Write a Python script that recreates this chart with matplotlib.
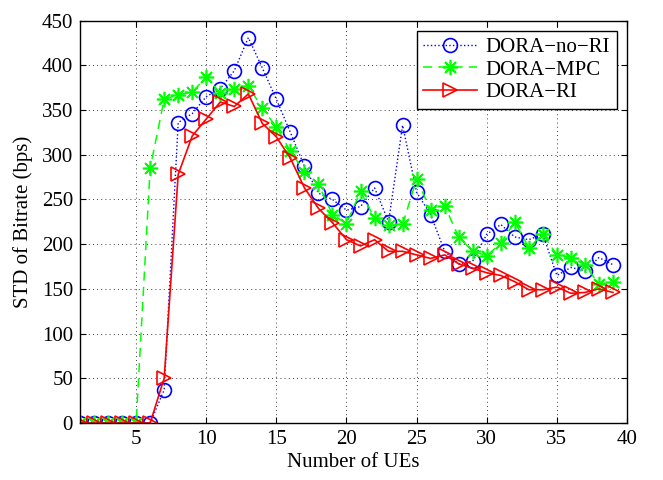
import matplotlib.pyplot as plt

plt.rcParams['font.family'] = ['Liberation Serif', 'DejaVu Serif']

# number of UEs
ues = list(range(1, 40))

# STD of bitrate (bps)
no_ri = [0, 0, 0, 0, 0, 0, 37, 336, 346, 365, 374, 394, 431, 397, 362, 325, 287, 257,
         250, 238, 242, 263, 225, 333, 258, 233, 192, 178, 181, 211, 222, 208, 205,
         211, 165, 174, 170, 185, 177]
mpc = [0, 0, 0, 0, 0, 285, 362, 367, 370, 387, 369, 374, 377, 352, 331, 304, 281, 267,
       233, 223, 259, 229, 221, 222, 273, 238, 243, 208, 192, 187, 201, 225, 196,
       211, 188, 185, 177, 155, 158]
ri = [0, 0, 0, 0, 0, 0, 50, 278, 321, 340, 359, 354, 368, 335, 320, 296, 263, 240,
      224, 205, 198, 205, 192, 192, 188, 184, 188, 178, 173, 168, 165, 158, 149,
      149, 152, 145, 146, 150, 146]

fig = plt.figure(figsize=(6.63, 4.8), dpi=100)
ax = fig.add_axes([0.1207, 0.1188, 0.825, 0.8382])

ax.plot(ues, no_ri, color='blue', linestyle=':', linewidth=1, marker='o',
        markersize=10, markerfacecolor='none', markeredgewidth=1.2, label='DORA\u2212no\u2212RI')
ax.plot(ues, mpc, color='#00ff00', linestyle='--', dashes=(6, 4), linewidth=1.1,
        marker=(8, 2, 0), markersize=11, markeredgewidth=1.2, label='DORA\u2212MPC')
ax.plot(ues, ri, color='red', linestyle='-', linewidth=1.2, marker='>',
        markersize=10, markerfacecolor='none', markeredgewidth=1.2, label='DORA\u2212RI')

ax.set_xlim(1, 40)
ax.set_ylim(0, 450)
ax.set_xticks([5, 10, 15, 20, 25, 30, 35, 40])
ax.set_yticks(range(0, 451, 50))
ax.grid(True, color='black', linestyle=':', linewidth=0.6, dashes=(1, 4))
ax.tick_params(direction='in', top=True, right=True, labelsize=15, length=4, pad=5)
for sp in ax.spines.values():
    sp.set_linewidth(1.0)

ax.set_xlabel('Number of UEs', fontsize=15, labelpad=3)
ax.set_ylabel('STD of Bitrate (bps)', fontsize=15, labelpad=6)

leg = ax.legend(loc='upper right', fontsize=15, fancybox=False, framealpha=1,
                edgecolor='black', borderpad=0.3, labelspacing=0.15, handlelength=2.6,
                handletextpad=0.4, borderaxespad=0.5)
leg.get_frame().set_linewidth(1.0)

fig.savefig('out.png', dpi=100)
